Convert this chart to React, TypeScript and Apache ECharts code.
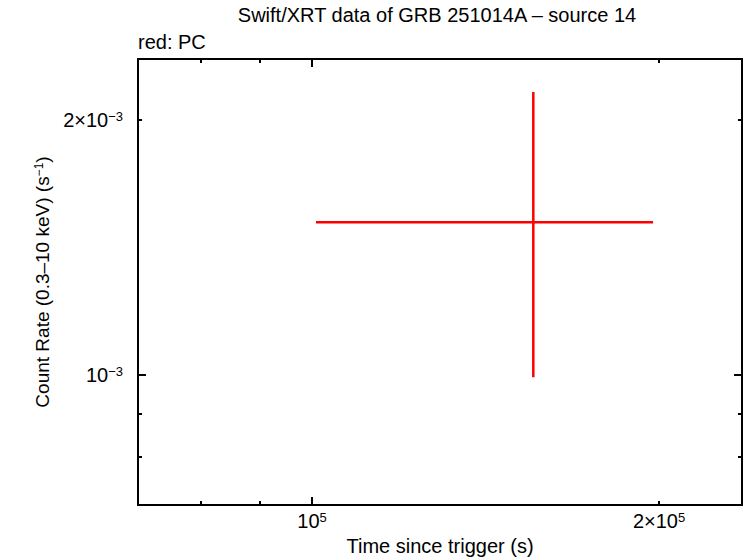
import React, { useEffect, useRef } from 'react';
import * as echarts from 'echarts';

const FONT = '"Liberation Sans", Arial, Helvetica, sans-serif';

const titleText = 'Swift/XRT data of GRB 251014A – source 14';
const legendText = 'red: PC';
const xAxisTitle = 'Time since trigger (s)';
const yAxisTitle = '{n|Count Rate (0.3–10 keV) (s}{ns|−1}{n|)}';

const xRange = [70640, 236040];
const yRange = [7.023e-4, 2.3605e-3];

const xMajorTicks = [1e5];
const xMinorTicks = [8e4, 9e4, 2e5];
const xLabelValues = [1e5, 2e5];
const xLabelTexts = ['{b|10}{s|5}', '{b|2×10}{s|5}'];

const yMajorTicks = [1e-3];
const yMinorTicks = [8e-4, 9e-4, 2e-3];
const yLabelValues = [1e-3, 2e-3];
const yLabelTexts = ['{b|10}{s|−3}', '{b|2×10}{s|−3}'];

// PC mode data point (time, rate with error ranges)
const pcTime = [1.5558e5];
const pcTimeLo = [1.008e5];
const pcTimeHi = [1.9763e5];
const pcRate = [1.5147e-3];
const pcRateLo = [0.9938e-3];
const pcRateHi = [2.1587e-3];

const rich = {
  b: { fontSize: 20, fontFamily: FONT, color: '#000' },
  s: { fontSize: 13, fontFamily: FONT, color: '#000', verticalAlign: 'top' as const },
  n: { fontSize: 19, fontFamily: FONT, color: '#000' },
  ns: { fontSize: 12, fontFamily: FONT, color: '#000', verticalAlign: 'top' as const },
};

function findLabel(values: number[], texts: string[], v: number) {
  const i = values.findIndex((t) => Math.abs(t - v) / t < 1e-6);
  return i >= 0 ? texts[i] : '';
}

function makeAxis(dim: 'x' | 'y', position: string, ticks: number[], len: number, labels: boolean) {
  const range = dim === 'x' ? xRange : yRange;
  const ax: any = {
    type: 'log',
    logBase: 10,
    position,
    min: range[0],
    max: range[1],
    gridIndex: 0,
    splitLine: { show: false },
    minorTick: { show: false },
    axisLine: { show: false },
    axisTick: {
      show: true,
      inside: true,
      length: len,
      customValues: ticks,
      lineStyle: { color: '#000', width: 2 },
    },
    axisLabel: { show: false },
  };
  if (labels) {
    const vals = dim === 'x' ? xLabelValues : yLabelValues;
    const txts = dim === 'x' ? xLabelTexts : yLabelTexts;
    ax.axisLabel = {
      show: true,
      customValues: vals,
      margin: dim === 'x' ? 6 : 15,
      formatter: (v: number) => findLabel(vals, txts, v),
      rich,
    };
  }
  return ax;
}

export default function App() {
  const ref = useRef<HTMLDivElement>(null);
  useEffect(() => {
    if (!ref.current) return;
    const chart = echarts.init(ref.current, undefined, { renderer: 'svg' });
    const xAxes = [
      {
        ...makeAxis('x', 'bottom', xMajorTicks, 8, true),
        name: xAxisTitle,
        nameLocation: 'middle',
        nameGap: 30,
        nameTextStyle: { fontSize: 20, fontFamily: FONT, color: '#000' },
      },
      makeAxis('x', 'bottom', xMinorTicks, 4, false),
      makeAxis('x', 'top', xMajorTicks, 8, false),
      makeAxis('x', 'top', xMinorTicks, 4, false),
    ];
    const yAxes = [
      {
        ...makeAxis('y', 'left', yMajorTicks, 8, true),
        name: yAxisTitle,
        nameLocation: 'middle',
        nameGap: 75,
        nameRotate: 90,
        nameTextStyle: { fontSize: 19, fontFamily: FONT, color: '#000', rich },
      },
      makeAxis('y', 'left', yMinorTicks, 4, false),
      makeAxis('y', 'right', yMajorTicks, 8, false),
      makeAxis('y', 'right', yMinorTicks, 4, false),
    ];
    const data = pcTime.map((t, i) => [t, pcRate[i], pcTimeLo[i], pcTimeHi[i], pcRateLo[i], pcRateHi[i]]);
    chart.setOption({
      animation: false,
      backgroundColor: '#fff',
      textStyle: { fontFamily: FONT },
      grid: {
        left: 138,
        top: 59,
        width: 604,
        height: 446,
        show: true,
        borderColor: '#000',
        borderWidth: 2,
        backgroundColor: 'transparent',
        containLabel: false,
        outerBoundsMode: 'none',
      },
      xAxis: xAxes,
      yAxis: yAxes,
      graphic: [
        {
          type: 'text',
          x: 437,
          y: 15,
          style: {
            text: titleText,
            font: `20px ${FONT}`,
            fill: '#000',
            align: 'center',
            verticalAlign: 'middle',
          },
        },
        {
          type: 'text',
          x: 138,
          y: 42,
          style: {
            text: legendText,
            font: `20px ${FONT}`,
            fill: '#000',
            align: 'left',
            verticalAlign: 'middle',
          },
        },
      ],
      series: [
        {
          type: 'custom',
          name: 'PC',
          xAxisIndex: 0,
          yAxisIndex: 0,
          encode: { x: [0, 2, 3], y: [1, 4, 5] },
          data,
          renderItem: (params: any, api: any) => {
            const c = api.coord([api.value(0), api.value(1)]);
            const l = api.coord([api.value(2), api.value(1)]);
            const r = api.coord([api.value(3), api.value(1)]);
            const lo = api.coord([api.value(0), api.value(4)]);
            const hi = api.coord([api.value(0), api.value(5)]);
            const style = { stroke: '#ff0000', lineWidth: 2.5 };
            return {
              type: 'group',
              children: [
                { type: 'line', shape: { x1: l[0], y1: l[1], x2: r[0], y2: r[1] }, style },
                { type: 'line', shape: { x1: c[0], y1: lo[1], x2: c[0], y2: hi[1] }, style },
              ],
            };
          },
        },
      ],
    });
    return () => chart.dispose();
  }, []);
  return <div ref={ref} style={{ position: 'fixed', left: 0, top: 0, width: 746, height: 558 }} />;
}
